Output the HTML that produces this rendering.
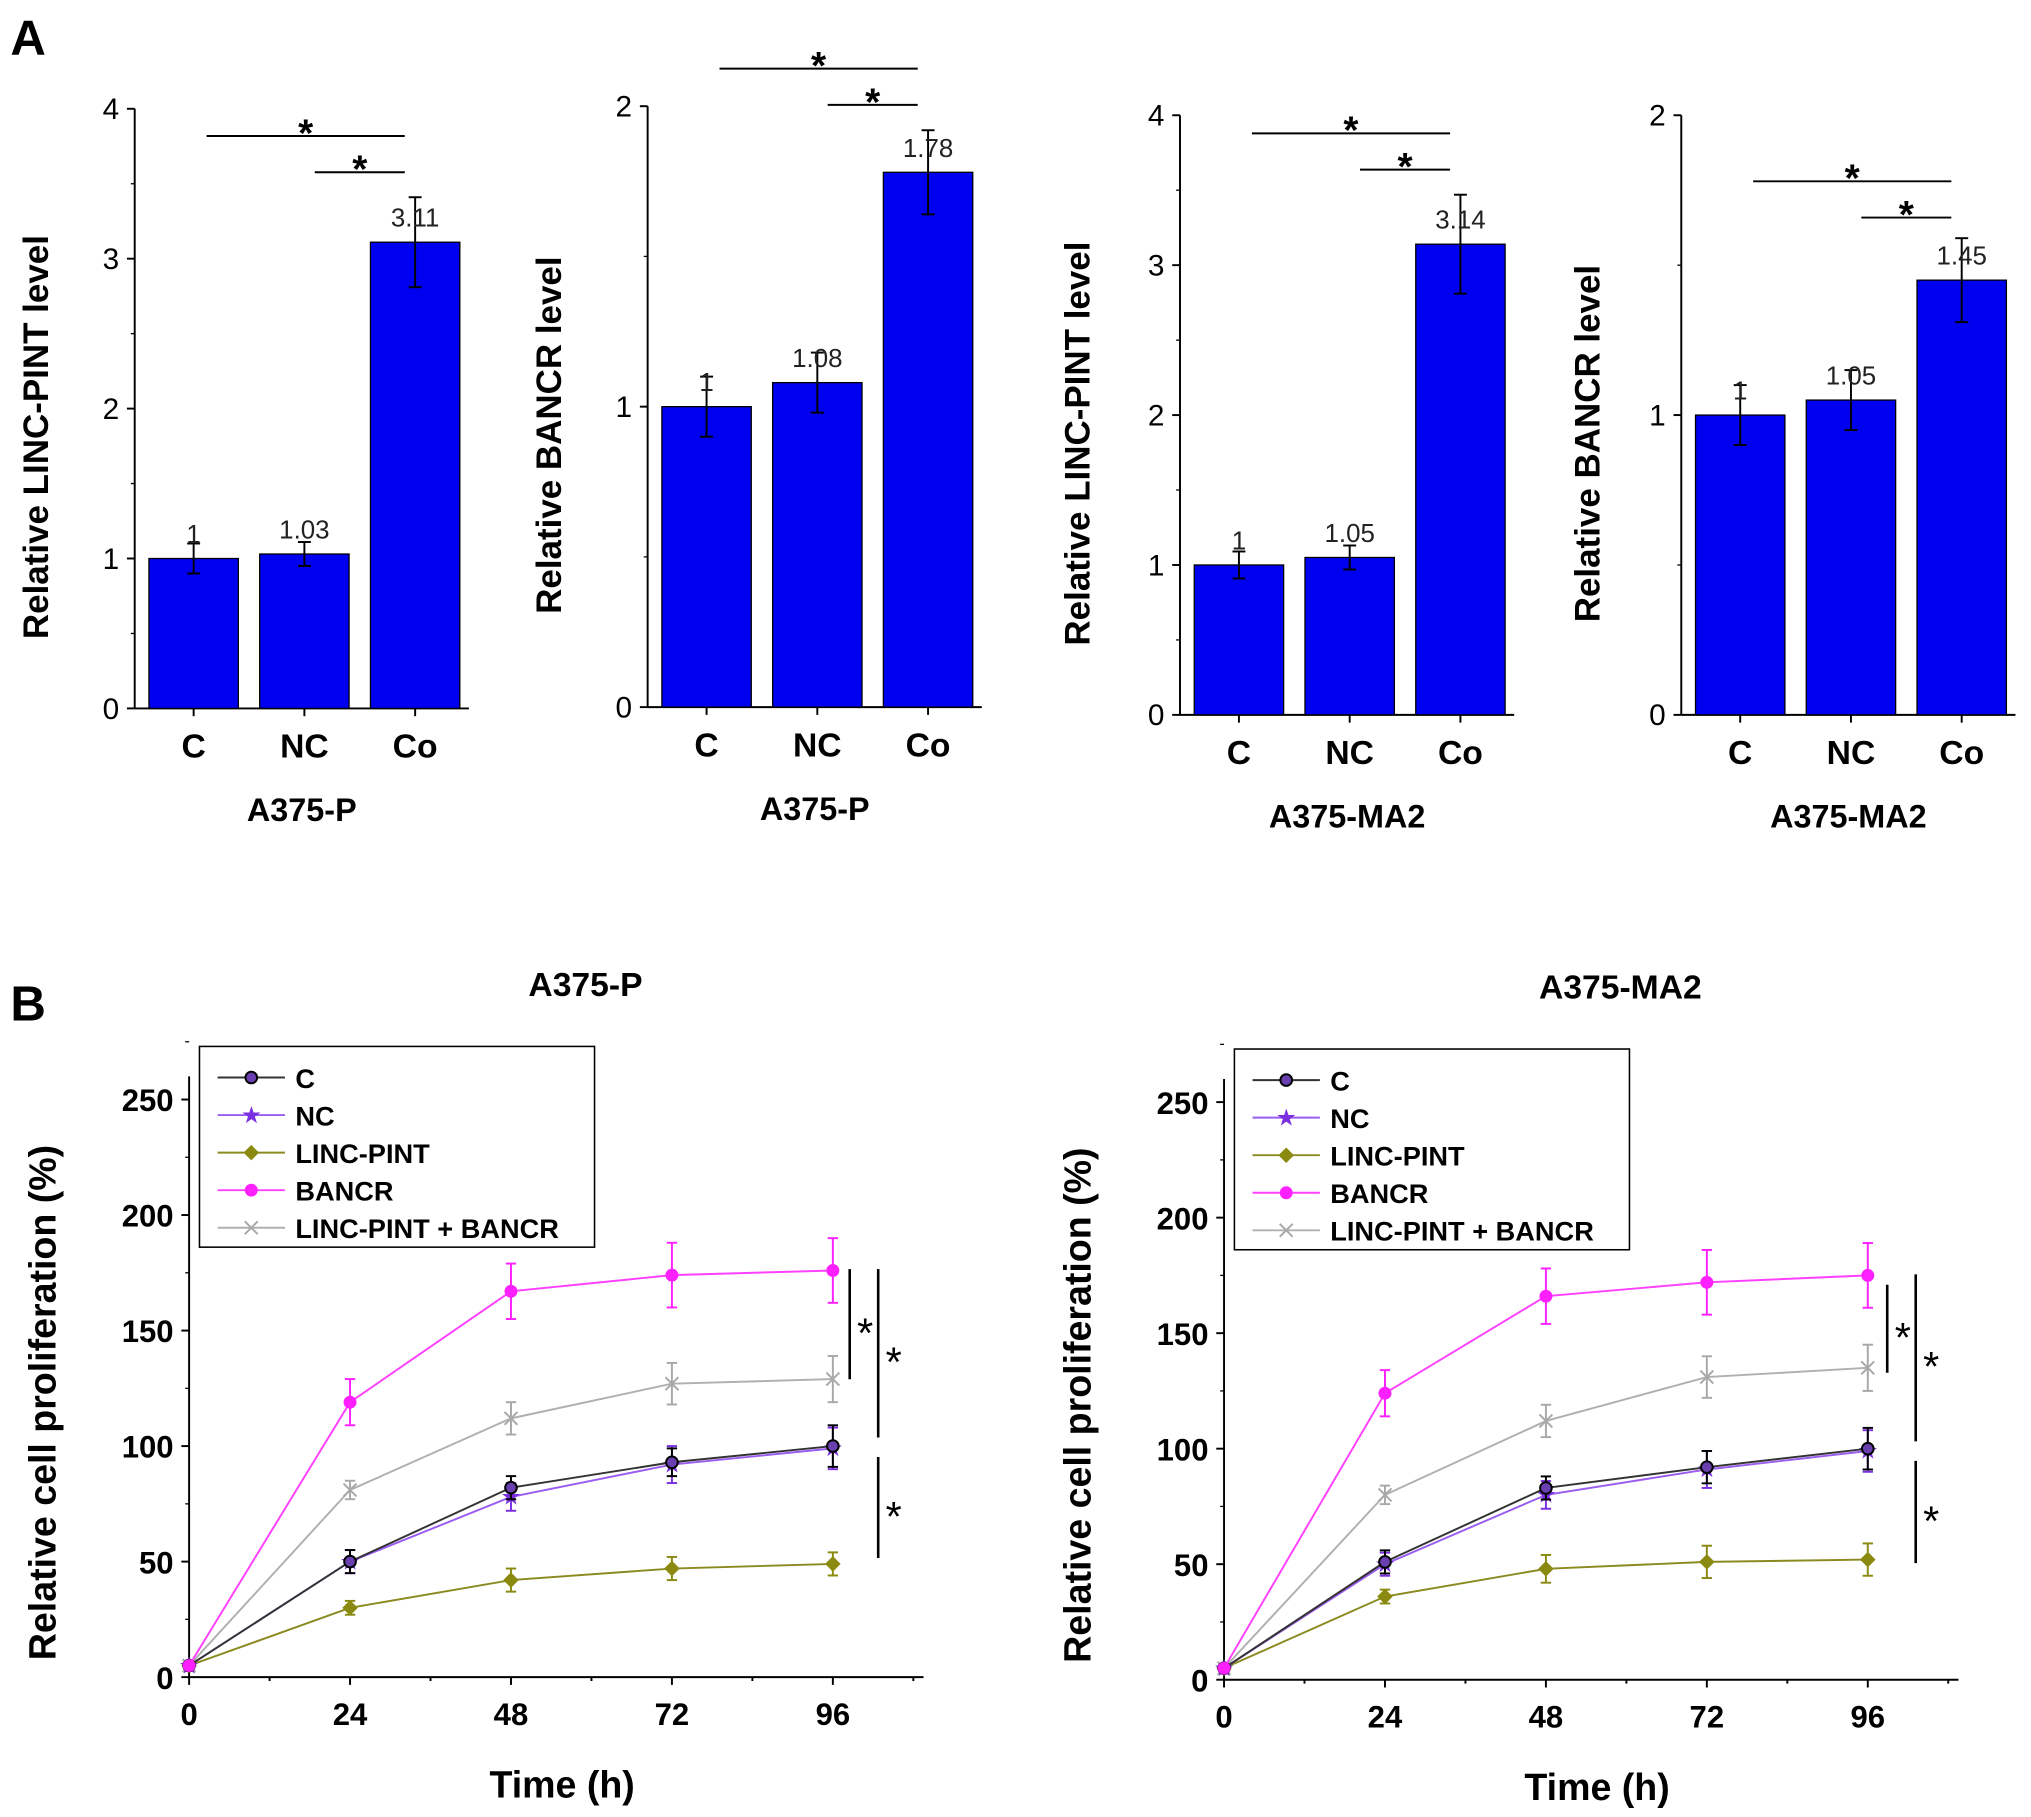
<!DOCTYPE html>
<html><head><meta charset="utf-8"><style>
html,body{margin:0;padding:0;background:#fff;}
svg{display:block;font-family:"Liberation Sans",Arial,sans-serif;}
</style></head><body>
<svg id="fig" width="2031" height="1817" viewBox="0 0 1568 1403" preserveAspectRatio="none" xmlns="http://www.w3.org/2000/svg">
<text x="8" y="42" font-size="38" font-weight="bold">A</text>
<text x="8" y="788" font-size="38" font-weight="bold">B</text>
</svg>
<script>
const barCategories = ["C","NC","Co"];
const bar1Values = [1,1.03,3.11];
const bar1Errors = [0.1,0.08,0.3];
const bar1Labels = ["1","1.03","3.11"];
const bar2Values = [1,1.08,1.78];
const bar2Errors = [0.1,0.1,0.14];
const bar2Labels = ["1","1.08","1.78"];
const bar3Values = [1,1.05,3.14];
const bar3Errors = [0.09,0.08,0.33];
const bar3Labels = ["1","1.05","3.14"];
const bar4Values = [1,1.05,1.45];
const bar4Errors = [0.1,0.1,0.14];
const bar4Labels = ["1","1.05","1.45"];
const ticks4 = [0,1,2,3,4];
const ticks2 = [0,1,2];

const timePoints = [0,24,48,72,96];
const timeTicks = [0,24,48,72,96];
const propTicks = [0,50,100,150,200,250];
const seriesNames = ["C","NC","LINC-PINT","BANCR","LINC-PINT + BANCR"];
const pC = [5,50,82,93,100];
const pNC = [5,50,78,92,99];
const pLINC = [5,30,42,47,49];
const pBANCR = [5,119,167,174,176];
const pCombo = [5,81,112,127,129];
const pCErr = [0,5,5,6,9];
const pNCErr = [0,5,6,8,9];
const pLINCErr = [0,3,5,5,5];
const pBANCRErr = [0,10,12,14,14];
const pComboErr = [0,4,7,9,10];
const mC = [5,51,83,92,100];
const mNC = [5,50,80,91,99];
const mLINC = [5,36,48,51,52];
const mBANCR = [5,124,166,172,175];
const mCombo = [5,80,112,131,135];
const mCErr = [0,5,5,7,9];
const mNCErr = [0,5,6,8,9];
const mLINCErr = [0,3,6,7,7];
const mBANCRErr = [0,10,12,14,14];
const mComboErr = [0,4,7,9,10];

const svg = document.getElementById('fig');
const NS = "http://www.w3.org/2000/svg";
function mk(tag, attrs, parent, txt){
  const e = document.createElementNS(NS, tag);
  for (const k in attrs) e.setAttribute(k, attrs[k]);
  if (txt !== undefined) e.textContent = txt;
  (parent || svg).appendChild(e);
  return e;
}

function barChart(cfg){
  const g = mk('g', {});
  
  
  const y = v => cfg.y0 - (v / cfg.max) * (cfg.y0 - cfg.yTop);
  const bw = 69, step = 85.5;
  const bx = i => cfg.ax + 11 + i * step;
  let a = mk('line', {x1:cfg.ax, y1:cfg.yTop, x2:cfg.ax, y2:cfg.y0, stroke:'#000','stroke-width':1.5}, g);
  
  
  a = mk('line', {x1:cfg.ax, y1:cfg.y0, x2:cfg.ax + 258, y2:cfg.y0, stroke:'#000','stroke-width':1.5}, g);
  
  
  cfg.ticks.forEach(t => {
    mk('line', {x1:cfg.ax - 6, y1:y(t), x2:cfg.ax, y2:y(t), stroke:'#000','stroke-width':1.5}, g);
    if (t < cfg.max) mk('line', {x1:cfg.ax - 3, y1:y(t + cfg.max/ (cfg.ticks.length-1)/2), x2:cfg.ax, y2:y(t + cfg.max/(cfg.ticks.length-1)/2), stroke:'#000'}, g);
    const tl = mk('text', {x:cfg.ax - 12, y:y(t) + 8, 'font-size':23, 'text-anchor':'end'}, g, String(t));
    
    
  });
  cfg.vals.forEach((v, i) => {
    const r = mk('rect', {x:bx(i), y:y(v), width:bw, height:cfg.y0 - y(v), fill:'#0000f0', stroke:'#000', 'stroke-width':1}, g);
    
    
    const cx = bx(i) + bw/2, e = cfg.errs[i];
    mk('line', {x1:cx, y1:y(v+e), x2:cx, y2:y(v-e), stroke:'#000','stroke-width':1.5}, g);
    mk('line', {x1:cx-5, y1:y(v+e), x2:cx+5, y2:y(v+e), stroke:'#000','stroke-width':1.5}, g);
    mk('line', {x1:cx-5, y1:y(v-e), x2:cx+5, y2:y(v-e), stroke:'#000','stroke-width':1.5}, g);
    const vl = mk('text', {x:cx, y:y(v) - 12, 'font-size':20, 'text-anchor':'middle', fill:'#222'}, g, cfg.labels[i]);
    
    
    mk('line', {x1:cx, y1:cfg.y0, x2:cx, y2:cfg.y0 + 6, stroke:'#000','stroke-width':1.5}, g);
    const cl = mk('text', {x:cx, y:cfg.y0 + 38, 'font-size':26, 'font-weight':'bold', 'text-anchor':'middle'}, g, barCategories[i]);
    
    
  });
  const tt = mk('text', {x:cfg.ax + 129, y:cfg.y0 + 87, 'font-size':25, 'font-weight':'bold', 'text-anchor':'middle'}, g, cfg.title);
  
  
  const yt = mk('text', {x:0, y:0, 'font-size':27, 'font-weight':'bold', 'text-anchor':'middle', transform:`translate(${cfg.ylx},${(cfg.y0+cfg.yTop)/2+22}) rotate(-90)`}, g, cfg.ylabel);
  
  
  const c0 = bx(0)+bw/2+10, c1 = bx(1)+bw/2+8, c2 = bx(2)+bw/2-8;
  mk('line', {x1:c0, y1:cfg.s1, x2:c2, y2:cfg.s1, stroke:'#000','stroke-width':1.5}, g);
  mk('line', {x1:c1, y1:cfg.s1+28, x2:c2, y2:cfg.s1+28, stroke:'#000','stroke-width':1.5}, g);
  let s = mk('text', {x:(c0+c2)/2, y:cfg.s1 + 8, 'font-size':30, 'font-weight':'bold', 'text-anchor':'middle'}, g, '*');
  
  
  s = mk('text', {x:(c1+c2)/2, y:cfg.s1 + 36, 'font-size':30, 'font-weight':'bold', 'text-anchor':'middle'}, g, '*');
  
  
}
barChart({name:'chart-a1-linc-pint-a375p', ax:104, y0:547, yTop:84, max:4, ticks:ticks4, vals:bar1Values, errs:bar1Errors, labels:bar1Labels, title:'A375-P', ylabel:'Relative LINC-PINT level', ylx:37, s1:105});
barChart({name:'chart-a2-bancr-a375p', ax:500, y0:546, yTop:82, max:2, ticks:ticks2, vals:bar2Values, errs:bar2Errors, labels:bar2Labels, title:'A375-P', ylabel:'Relative BANCR level', ylx:433, s1:53});
barChart({name:'chart-a3-linc-pint-a375ma2', ax:911, y0:552, yTop:89, max:4, ticks:ticks4, vals:bar3Values, errs:bar3Errors, labels:bar3Labels, title:'A375-MA2', ylabel:'Relative LINC-PINT level', ylx:841, s1:103});
barChart({name:'chart-a4-bancr-a375ma2', ax:1298, y0:552, yTop:89, max:2, ticks:ticks2, vals:bar4Values, errs:bar4Errors, labels:bar4Labels, title:'A375-MA2', ylabel:'Relative BANCR level', ylx:1235, s1:140});

const colors = ['#000000','#7a2fe0','#8a8a10','#ff20ff','#a8a8a8'];
const lineColors = ['#333333','#9b5cf0','#8a8a20','#ff40ff','#b0b0b0'];
function marker(g, kind, x, y, c){
  if (kind === 0) mk('circle', {cx:x, cy:y, r:4.5, fill:'#6a3fb0', stroke:'#000','stroke-width':1.5}, g);
  else if (kind === 1) mk('text', {x:x, y:y+6, 'font-size':18, 'text-anchor':'middle', fill:c}, g, '★');
  else if (kind === 2) mk('polygon', {points:`${x},${y-6} ${x+6},${y} ${x},${y+6} ${x-6},${y}`, fill:c}, g);
  else if (kind === 3) mk('circle', {cx:x, cy:y, r:5, fill:c}, g);
  else { mk('line',{x1:x-5,y1:y-5,x2:x+5,y2:y+5,stroke:c,'stroke-width':1.5},g); mk('line',{x1:x-5,y1:y+5,x2:x+5,y2:y-5,stroke:c,'stroke-width':1.5},g); }
}
function lineChart(cfg){
  const g = mk('g', {});
  
  
  const X = t => cfg.ax + t * cfg.kx;
  const Y = v => cfg.y0 - v * cfg.ky;
  let a = mk('line', {x1:cfg.ax, y1:Y(260), x2:cfg.ax, y2:cfg.y0, stroke:'#000','stroke-width':1.5}, g);
  
  
  a = mk('line', {x1:cfg.ax, y1:cfg.y0, x2:cfg.ax + 567, y2:cfg.y0, stroke:'#000','stroke-width':1.5}, g);
  
  
  propTicks.forEach(t => {
    mk('line', {x1:cfg.ax-6, y1:Y(t), x2:cfg.ax, y2:Y(t), stroke:'#000','stroke-width':1.5}, g);
    mk('line', {x1:cfg.ax-3, y1:Y(t+25), x2:cfg.ax, y2:Y(t+25), stroke:'#000'}, g);
    const tl = mk('text', {x:cfg.ax-12, y:Y(t)+9, 'font-size':24, 'font-weight':'bold', 'text-anchor':'end'}, g, String(t));
    
    
  });
  for (let t = 0; t <= 108; t += 12) mk('line', {x1:X(t), y1:cfg.y0, x2:X(t), y2:cfg.y0 + (t % 24 ? 3 : 6), stroke:'#000','stroke-width':1.5}, g);
  timeTicks.forEach(t => {
    const tl = mk('text', {x:X(t), y:cfg.y0+37, 'font-size':24, 'font-weight':'bold', 'text-anchor':'middle'}, g, String(t));
    
    
  });
  let t = mk('text', {x:cfg.ax + 288, y:cfg.y0 + 93, 'font-size':29, 'font-weight':'bold', 'text-anchor':'middle'}, g, 'Time (h)');
  
  
  t = mk('text', {x:0, y:0, 'font-size':29, 'font-weight':'bold', 'text-anchor':'middle', transform:`translate(${cfg.ax-103},${cfg.y0-212}) rotate(-90)`}, g, 'Relative cell proliferation (%)');
  
  
  t = mk('text', {x:cfg.ax + 306, y:cfg.y0 - 526, 'font-size':26, 'font-weight':'bold', 'text-anchor':'middle'}, g, cfg.title);
  
  
  const order = [2,4,1,0,3];
  order.forEach(si => {
    const vals = cfg.series[si], errs = cfg.errs[si];
    const sg = mk('g', {}, g);
    
    
    mk('polyline', {points: timePoints.map((tp,i)=>`${X(tp)},${Y(vals[i])}`).join(' '), fill:'none', stroke:lineColors[si], 'stroke-width':1.5}, sg);
    timePoints.forEach((tp,i) => {
      if (errs[i] > 0) {
        mk('line', {x1:X(tp), y1:Y(vals[i]+errs[i]), x2:X(tp), y2:Y(vals[i]-errs[i]), stroke:colors[si],'stroke-width':1.5}, sg);
        mk('line', {x1:X(tp)-4, y1:Y(vals[i]+errs[i]), x2:X(tp)+4, y2:Y(vals[i]+errs[i]), stroke:colors[si],'stroke-width':1.5}, sg);
        mk('line', {x1:X(tp)-4, y1:Y(vals[i]-errs[i]), x2:X(tp)+4, y2:Y(vals[i]-errs[i]), stroke:colors[si],'stroke-width':1.5}, sg);
      }
      marker(sg, si, X(tp), Y(vals[i]), colors[si]);
    });
  });
  const lg = mk('g', {}, g);
  
  
  mk('rect', {x:cfg.ax+8, y:cfg.y0-487, width:305, height:155, fill:'#fff', stroke:'#000','stroke-width':1.2}, lg);
  seriesNames.forEach((n, si) => {
    const ly = cfg.y0 - 463 + si * 29;
    const eg = mk('g', {}, lg);
    
    
    mk('line', {x1:cfg.ax+22, y1:ly, x2:cfg.ax+74, y2:ly, stroke:lineColors[si], 'stroke-width':1.5}, eg);
    marker(eg, si, cfg.ax+48, ly, colors[si]);
    mk('text', {x:cfg.ax+82, y:ly+8, 'font-size':21, 'font-weight':'bold'}, eg, n);
  });
  cfg.sig.forEach(s => {
    mk('line', {x1:s[0], y1:s[1], x2:s[0], y2:s[2], stroke:'#000','stroke-width':2}, g);
    const st = mk('text', {x:s[0]+12, y:(s[1]+s[2])/2+18, 'font-size':32, 'text-anchor':'middle'}, g, '*');
    
    
  });
}
lineChart({name:'chart-b-a375p', ax:146, y0:1295, kx:5.177, ky:1.784, title:'A375-P',
  series:[pC,pNC,pLINC,pBANCR,pCombo], errs:[pCErr,pNCErr,pLINCErr,pBANCRErr,pComboErr],
  sig:[[656,980,1065],[678,980,1110],[678,1125,1203]]});
lineChart({name:'chart-b-a375ma2', ax:945, y0:1297, kx:5.177, ky:1.784, title:'A375-MA2',
  series:[mC,mNC,mLINC,mBANCR,mCombo], errs:[mCErr,mNCErr,mLINCErr,mBANCRErr,mComboErr],
  sig:[[1457,992,1060],[1479,984,1113],[1479,1128,1207]]});
</script>
</body></html>
